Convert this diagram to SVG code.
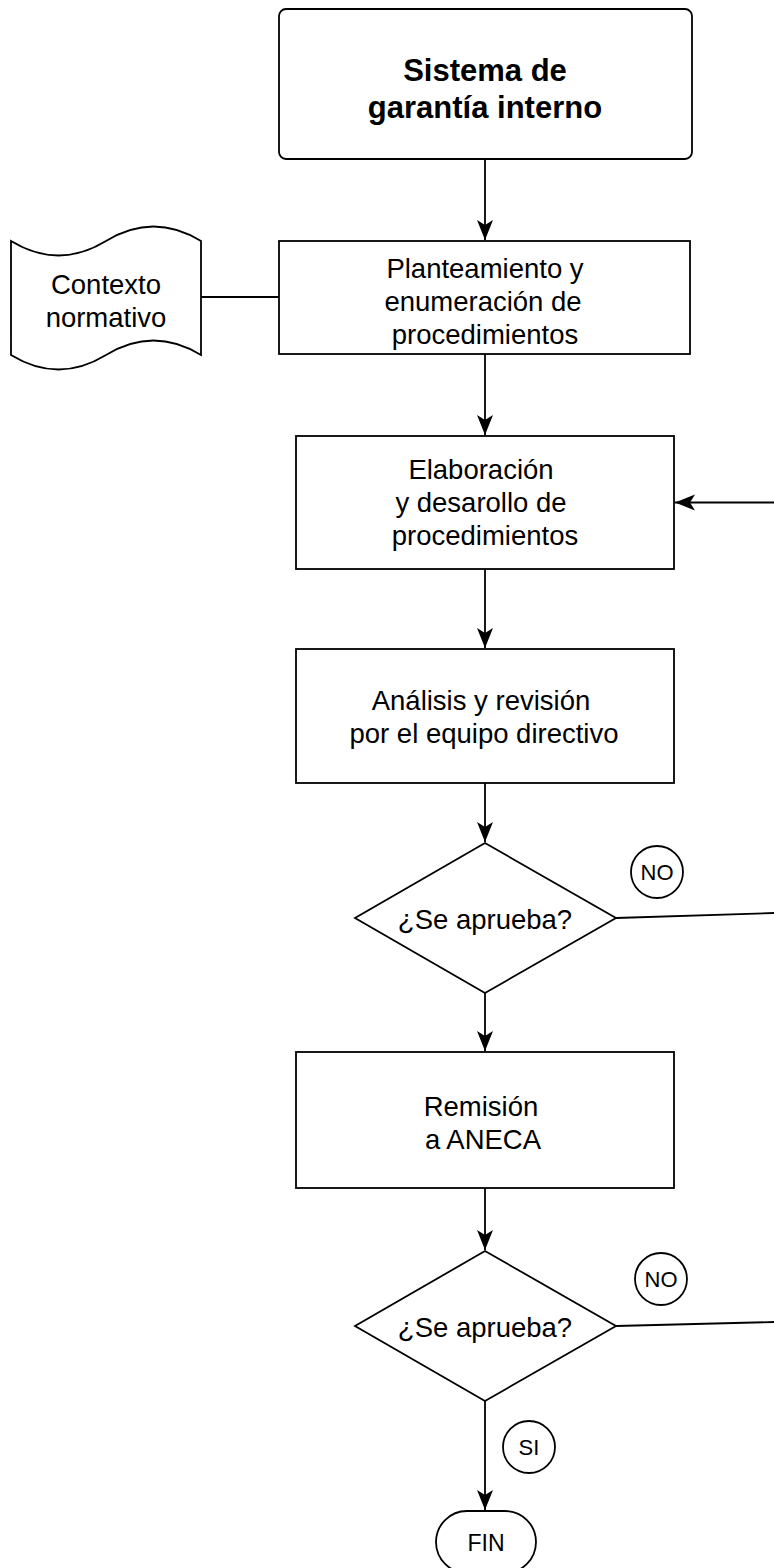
<svg xmlns="http://www.w3.org/2000/svg" width="774" height="1568" viewBox="0 0 774 1568">
<style>
.s{fill:#fff;stroke:#000;stroke-width:1.8}
.c{fill:none;stroke:#000;stroke-width:1.8}
.t{font-family:"Liberation Sans",Arial,sans-serif;font-size:27.5px;text-anchor:middle;fill:#000}
.b{font-weight:bold;font-size:31px}
.sm{font-size:22px}
</style>
<defs>
<marker id="a" markerUnits="userSpaceOnUse" markerWidth="22" markerHeight="18" refX="20" refY="8" orient="auto">
<path d="M0,0 L20,8 L0,16 L5,8 Z" fill="#000"/>
</marker>
</defs>
<g id="connectors">
<line class="c" x1="485" y1="159" x2="485" y2="240" marker-end="url(#a)"/>
<line class="c" x1="201" y1="297" x2="279" y2="297"/>
<line class="c" x1="485" y1="354" x2="485" y2="435" marker-end="url(#a)"/>
<line class="c" x1="774" y1="502.5" x2="675" y2="502.5" marker-end="url(#a)"/>
<line class="c" x1="485" y1="569" x2="485" y2="648" marker-end="url(#a)"/>
<line class="c" x1="485" y1="783" x2="485" y2="842" marker-end="url(#a)"/>
<line class="c" x1="616" y1="918" x2="774" y2="913"/>
<line class="c" x1="485" y1="993" x2="485" y2="1051" marker-end="url(#a)"/>
<line class="c" x1="485" y1="1188" x2="485" y2="1250" marker-end="url(#a)"/>
<line class="c" x1="616" y1="1326" x2="774" y2="1322"/>
<line class="c" x1="485" y1="1401" x2="485" y2="1510" marker-end="url(#a)"/>
</g>
<g id="n1">
<rect class="s" x="279" y="9" width="413" height="150" rx="7"/>
<text class="t b" x="485" y="81">Sistema de</text>
<text class="t b" x="485" y="118">garantía interno</text>
</g>
<g id="n2">
<rect class="s" x="279" y="241" width="411" height="113"/>
<text class="t" x="485" y="278">Planteamiento y</text>
<text class="t" x="483" y="311">enumeración de</text>
<text class="t" x="485" y="344">procedimientos</text>
</g>
<g id="n3">
<path class="s" d="M11,241 Q58.5,270 106,241 Q153.5,212 201,241 L201,355 Q153.5,326 106,355 Q58.5,384 11,355 Z"/>
<text class="t" x="106" y="294">Contexto</text>
<text class="t" x="106" y="327">normativo</text>
</g>
<g id="n4">
<rect class="s" x="296" y="436" width="378" height="133"/>
<text class="t" x="481" y="479">Elaboración</text>
<text class="t" x="481" y="512">y desarollo de</text>
<text class="t" x="485" y="545">procedimientos</text>
</g>
<g id="n5">
<rect class="s" x="296" y="649" width="378" height="134"/>
<text class="t" x="481" y="710">Análisis y revisión</text>
<text class="t" x="484" y="743">por el equipo directivo</text>
</g>
<g id="n6">
<polygon class="s" points="485,843 616,918 485,993 355,918"/>
<text class="t" x="485" y="929">¿Se aprueba?</text>
</g>
<g id="n7">
<circle class="s" cx="657" cy="872" r="26"/>
<text class="t sm" x="657" y="880">NO</text>
</g>
<g id="n8">
<rect class="s" x="296" y="1052" width="378" height="136"/>
<text class="t" x="481" y="1116">Remisión</text>
<text class="t" x="483" y="1149">a ANECA</text>
</g>
<g id="n9">
<polygon class="s" points="485,1251 616,1326 485,1401 355,1326"/>
<text class="t" x="485" y="1337">¿Se aprueba?</text>
</g>
<g id="n10">
<circle class="s" cx="661" cy="1279" r="26"/>
<text class="t sm" x="661" y="1287">NO</text>
</g>
<g id="n11">
<circle class="s" cx="529" cy="1447" r="26"/>
<text class="t sm" x="529" y="1455">SI</text>
</g>
<g id="n12">
<rect class="s" x="436" y="1511" width="100" height="62" rx="31"/>
<text class="t" x="486" y="1551" style="font-size:23px">FIN</text>
</g>
</svg>
